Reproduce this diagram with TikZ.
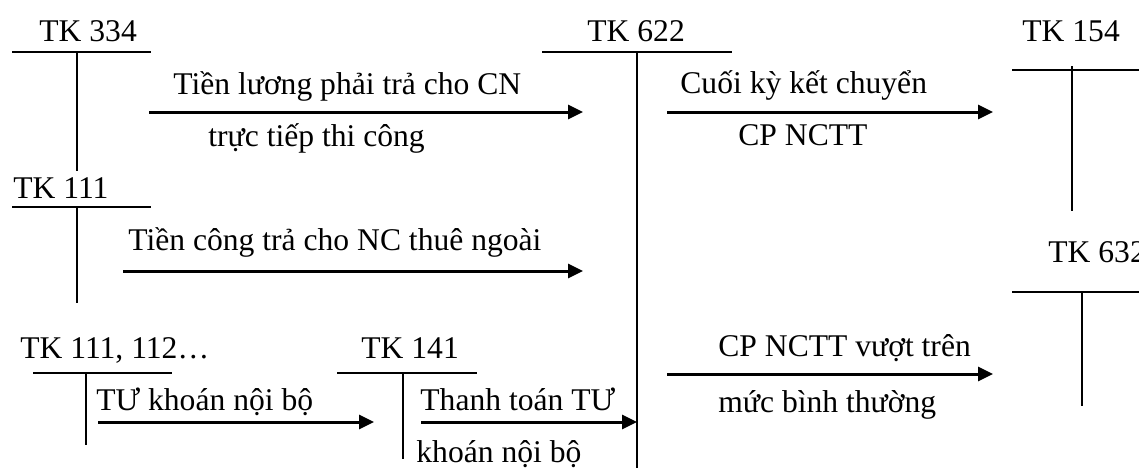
\documentclass[tikz,border=0pt]{standalone}
\usepackage{fontspec}
\setmainfont{Liberation Serif}
\usetikzlibrary{arrows.meta}

\newlength{\du}
\setlength{\du}{0.5pt}

\tikzset{
  tk/.style={line width=2\du},
  flow/.style={line width=3\du,-{Triangle[length=7.5pt,width=7pt]}},
  lbl/.style={anchor=base west,inner sep=0pt,font=\fontsize{15.8}{18}\selectfont}
}

\begin{document}
\begin{tikzpicture}
\pgftransformxscale{1.000000}
\pgftransformyscale{-1.000000}
\useasboundingbox (0\du,0\du) rectangle (1139\du,468\du);

% tai khoan chu T
\draw[tk] (12\du,52\du)--(151\du,52\du);
\draw[tk] (77\du,52\du)--(77\du,171\du);
\node[lbl] (n334) at (39\du,41\du){TK 334};

\draw[tk] (12\du,207\du)--(151\du,207\du);
\draw[tk] (77\du,207\du)--(77\du,303\du);
\node[lbl] (n111) at (13\du,198\du){TK 111};

\draw[tk] (542\du,52\du)--(732\du,52\du);
\draw[tk] (637\du,52\du)--(637\du,468\du);
\node[lbl] (n622) at (587\du,41\du){TK 622};

\draw[tk] (1012\du,70\du)--(1139\du,70\du);
\draw[tk] (1072\du,66\du)--(1072\du,211\du);
\node[lbl] (n154) at (1022\du,41\du){TK 154};

\draw[tk] (1012\du,292\du)--(1139\du,292\du);
\draw[tk] (1082\du,292\du)--(1082\du,406\du);
\node[lbl] (n632) at (1048\du,262\du){TK 632};

\draw[tk] (33\du,373\du)--(172\du,373\du);
\draw[tk] (86\du,373\du)--(86\du,445\du);
\node[lbl] (n111b) at (20\du,358\du){TK 111, 112\ldots};

\draw[tk] (337\du,373\du)--(477\du,373\du);
\draw[tk] (403\du,373\du)--(403\du,459\du);
\node[lbl] (n141) at (361\du,358\du){TK 141};

% but toan
\coordinate (a1) at (149\du,112\du);
\coordinate (b1) at (583\du,112\du);
\coordinate (a2) at (123\du,271\du);
\coordinate (b2) at (583\du,271\du);
\coordinate (a3) at (667\du,112\du);
\coordinate (b3) at (993\du,112\du);
\coordinate (a4) at (667\du,374\du);
\coordinate (b4) at (993\du,374\du);
\coordinate (a5) at (98\du,422\du);
\coordinate (b5) at (374\du,422\du);
\coordinate (a6) at (421\du,422\du);
\coordinate (b6) at (637\du,422\du);

\draw[flow] (a1)--(b1);
\draw[flow] (a2)--(b2);
\draw[flow] (a3)--(b3);
\draw[flow] (a4)--(b4);
\draw[flow] (a5)--(b5);
\draw[flow] (a6)--(b6);

\node[lbl] (t1) at (173\du,94\du){Tiền lương phải trả cho CN};
\node[lbl] (t1b) at (208\du,146\du){trực tiếp thi công};
\node[lbl] (t2) at (128\du,250\du){Tiền công trả cho NC thuê ngoài};
\node[lbl] (t3) at (680\du,93\du){Cuối kỳ kết chuyển};
\node[lbl] (t3b) at (738\du,145\du){CP NCTT};
\node[lbl] (t4) at (718\du,356\du){CP NCTT vượt trên};
\node[lbl] (t4b) at (718\du,412\du){mức bình thường};
\node[lbl] (t5) at (96\du,410\du){TƯ khoán nội bộ};
\node[lbl] (t6) at (420\du,410\du){Thanh toán TƯ};
\node[lbl] (t6b) at (416\du,462\du){khoán nội bộ};
\end{tikzpicture}
\end{document}
